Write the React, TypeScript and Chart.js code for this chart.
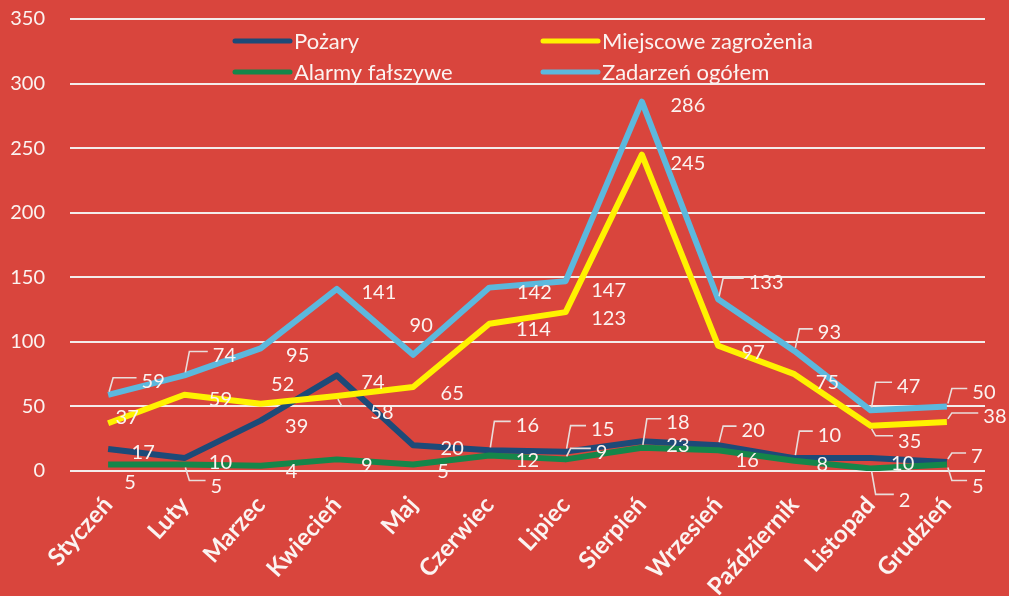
import React, { useEffect, useRef } from "react";
import { Chart, registerables } from "chart.js";

Chart.register(...registerables);

const months = [
  "Styczeń", "Luty", "Marzec", "Kwiecień", "Maj", "Czerwiec",
  "Lipiec", "Sierpień", "Wrzesień", "Październik", "Listopad", "Grudzień",
];
const pozary = [17, 10, 39, 74, 20, 16, 15, 23, 20, 10, 10, 7];
const miejscowe = [37, 59, 52, 58, 65, 114, 123, 245, 97, 75, 35, 38];
const alarmy = [5, 5, 4, 9, 5, 12, 9, 18, 16, 8, 2, 5];
const ogolem = [59, 74, 95, 141, 90, 142, 147, 286, 133, 93, 47, 50];
const seriesNames = ["Pożary", "Miejscowe zagrożenia", "Alarmy fałszywe", "Zadarzeń ogółem"];
const yMin = 0;
const yMax = 350;
const yStep = 50;

// styles / layout (not data)
const BG = "#d9453d";
const COLORS = ["#1d4a78", "#fff200", "#15864a", "#5cb8dd"];
const FONT = "Lato, 'Open Sans', sans-serif";
const TEXT = "#fbf3f1";

// label offsets [dx, dy, leader] relative to each point, per series
const LABEL_LAYOUT: number[][][] = [
  [[35,4,0],[36,4,0],[36,6,0],[36,7,0],[39,3,0],[38,-25,1],[37,-22,1],[36,4,0],[35,-15,1],[35,-23,1],[32,5,0],[30,-5,1]],
  [[19,-6,0],[36,5,0],[22,-19,0],[45,16,1],[39,6,0],[44,6,0],[43,6,0],[46,9,0],[35,7,0],[33,8,0],[39,16,1],[48,-5,1]],
  [[22,18,0],[32,22,1],[31,6,0],[30,6,0],[30,7,0],[38,5,0],[36,-7,1],[36,-25,1],[29,10,0],[28,4,0],[34,32,1],[31,22,1]],
  [[45,-13,1],[40,-20,1],[37,7,0],[42,4,0],[8,-29,0],[45,5,0],[43,9,0],[46,4,0],[48,-17,1],[35,-18,1],[38,-24,1],[37,-14,1]],
];

// legend layout: [x of line start, y] per series
const LEGEND_POS = [[235, 41], [543, 41], [235, 72], [543, 72]];

const labelPlugin = {
  id: "pointLabels",
  afterDatasetsDraw(chart: any) {
    const ctx = chart.ctx;
    ctx.save();
    ctx.font = `20px ${FONT}`;
    ctx.textAlign = "center";
    ctx.textBaseline = "middle";
    chart.data.datasets.forEach((ds: any, di: number) => {
      const meta = chart.getDatasetMeta(di);
      const layout = LABEL_LAYOUT[ds.seriesIndex];
      meta.data.forEach((pt: any, i: number) => {
        const [dx, dy, leader] = layout[i];
        const lx = pt.x + dx;
        const ly = pt.y + dy;
        const txt = String(ds.data[i]);
        if (leader) {
          const w = ctx.measureText(txt).width;
          const above = dy < 0;
          const hy = above ? ly - 4 : ly - 6;
          const cx = pt.x + 5;
          const ex = lx - w / 2 - 5;
          ctx.strokeStyle = "#e9dddb";
          ctx.lineWidth = 1.6;
          ctx.beginPath();
          ctx.moveTo(pt.x + 1, pt.y + (above ? -3 : 3));
          ctx.lineTo(cx, hy);
          if (ex > cx) ctx.lineTo(ex, hy);
          ctx.stroke();
        }
        ctx.fillStyle = TEXT;
        ctx.fillText(txt, lx, ly);
      });
    });
    ctx.restore();
  },
  afterDraw(chart: any) {
    const ctx = chart.ctx;
    ctx.save();
    ctx.font = `22px ${FONT}`;
    ctx.textAlign = "left";
    ctx.textBaseline = "middle";
    seriesNames.forEach((name, i) => {
      const [x, y] = LEGEND_POS[i];
      ctx.strokeStyle = COLORS[i];
      ctx.lineWidth = 5;
      ctx.lineCap = "round";
      ctx.beginPath();
      ctx.moveTo(x, y);
      ctx.lineTo(x + 55, y);
      ctx.stroke();
      ctx.fillStyle = TEXT;
      ctx.fillText(name, x + 59, y + 1);
    });
    ctx.restore();
  },
};

export default function App() {
  const ref = useRef<HTMLCanvasElement>(null);
  useEffect(() => {
    const canvas = ref.current!;
    const all = [pozary, miejscowe, alarmy, ogolem];
    const drawOrder = [3, 2, 1, 0];
    const datasets = all.map((d, i) => ({
      label: seriesNames[i],
      data: d,
      seriesIndex: i,
      borderColor: COLORS[i],
      backgroundColor: COLORS[i],
      borderWidth: 6,
      pointRadius: 0,
      tension: 0,
      order: drawOrder[i],
      borderJoinStyle: "round" as const,
    }));
    const chart = new Chart(canvas, {
      type: "line",
      data: { labels: months, datasets: datasets as any },
      options: {
        responsive: false,
        animation: false,
        layout: { padding: { top: 19, right: 24, left: 0, bottom: 0 } },
        plugins: { legend: { display: false }, tooltip: { enabled: false } },
        scales: {
          x: {
            offset: true,
            grid: { display: false, drawTicks: false },
            border: { display: false },
            ticks: {
              color: TEXT,
              font: { family: FONT, size: 24, weight: "bold" },
              maxRotation: 48,
              minRotation: 48,
              padding: 20,
              autoSkip: false,
            },
            afterFit(s: any) { s.height = 125; },
          },
          y: {
            min: yMin,
            max: yMax,
            grid: { color: "#f4ecea", lineWidth: 2, drawTicks: false },
            border: { display: false },
            ticks: {
              stepSize: yStep,
              color: TEXT,
              font: { family: FONT, size: 20 },
              padding: 25,
            },
            afterFit(s: any) {
              s.width = 70;
              s.paddingTop = 0;
              s.paddingBottom = 0;
            },
          },
        },
      },
      plugins: [labelPlugin],
    });
    return () => chart.destroy();
  }, []);
  return (
    <div style={{ position: "fixed", left: 0, top: 0, width: 1009, height: 596, background: BG }}>
      <canvas ref={ref} width={1009} height={596} style={{ display: "block" }} />
    </div>
  );
}
